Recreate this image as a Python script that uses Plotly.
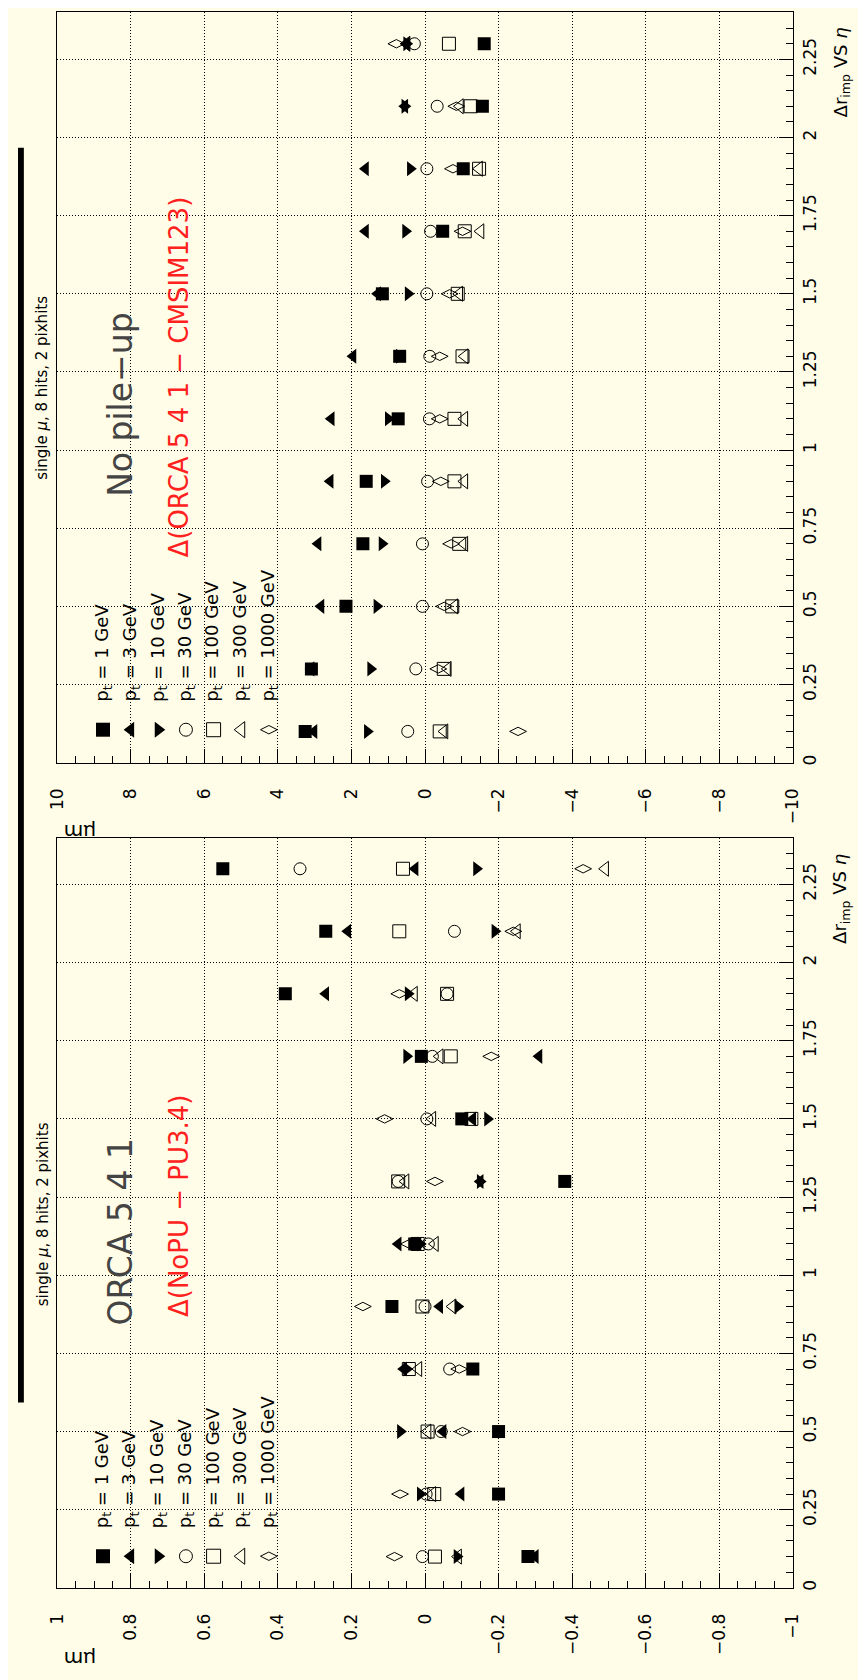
import plotly.graph_objects as go

W, H = 866, 1680

# ---------------- data ----------------
eta = [0.1, 0.3, 0.5, 0.7, 0.9, 1.1, 1.3, 1.5, 1.7, 1.9, 2.1, 2.3]

# upper panel: Delta(ORCA 5 4 1 - CMSIM123), in um
up_pt1 = [3.26, 3.09, 2.15, 1.69, 1.60, 0.73, 0.69, 1.16, -0.48, -1.04, -1.56, -1.61]
up_pt3 = [3.02, 3.10, 2.83, 2.91, 2.58, 2.55, 1.96, 1.29, 1.62, 1.62, 0.55, 0.50]
up_pt10 = [1.57, 1.48, 1.31, 1.17, 1.11, 1.00, 0.70, 0.46, 0.53, 0.40, 0.55, 0.50]
up_pt30 = [0.47, 0.25, 0.07, 0.07, -0.07, -0.12, -0.13, -0.05, -0.15, -0.05, -0.33, 0.29]
up_pt100 = [-0.40, -0.51, -0.74, -0.93, -0.80, -0.80, -1.02, -0.89, -1.08, -1.47, -1.24, -0.65]
up_pt300 = [-0.53, -0.62, -0.80, -1.07, -1.07, -1.07, -1.08, -0.93, -1.51, -1.47, -0.95, 0.50]
up_pt1000 = [-2.53, -0.36, -0.52, -0.71, -0.43, -0.40, -0.40, -0.67, -1.02, -0.76, -0.85, 0.78]

# lower panel: Delta(NoPU - PU3.4), in um
lo_pt1 = [-0.28, -0.20, -0.20, -0.13, 0.09, 0.028, -0.38, -0.10, 0.01, 0.38, 0.27, 0.55]
lo_pt3 = [-0.30, -0.098, -0.049, 0.058, -0.04, 0.073, -0.15, -0.13, -0.31, 0.27, 0.21, 0.027]
lo_pt10 = [-0.087, 0.013, 0.067, 0.05, -0.089, 0.013, -0.15, -0.17, 0.05, 0.046, -0.19, -0.14]
lo_pt30 = [0.007, -0.003, -0.044, -0.067, 0.0, -0.009, 0.073, -0.005, -0.02, -0.06, -0.08, 0.34]
lo_pt100 = [-0.027, -0.025, -0.007, 0.044, 0.007, 0.02, 0.073, -0.126, -0.07, -0.06, 0.07, 0.06]
lo_pt300 = [-0.09, -0.02, -0.007, 0.018, -0.075, -0.027, 0.053, -0.02, -0.04, 0.03, -0.25, -0.49]
lo_pt1000 = [0.083, 0.068, -0.102, -0.093, 0.169, 0.044, -0.027, 0.11, -0.18, 0.07, -0.24, -0.43]

legend_labels = ["p<sub>t</sub> = 1 GeV", "p<sub>t</sub> = 3 GeV", "p<sub>t</sub> = 10 GeV",
                 "p<sub>t</sub> = 30 GeV", "p<sub>t</sub> = 100 GeV", "p<sub>t</sub> = 300 GeV",
                 "p<sub>t</sub> = 1000 GeV"]

up_ticks = [10, 8, 6, 4, 2, 0, -2, -4, -6, -8, -10]
lo_ticks = [1, 0.8, 0.6, 0.4, 0.2, 0, -0.2, -0.4, -0.6, -0.8, -1]
eta_ticks = [0, 0.25, 0.5, 0.75, 1, 1.25, 1.5, 1.75, 2, 2.25]
eta_ticktext = ["0", "0.25", "0.5", "0.75", "1", "1.25", "1.5", "1.75", "2", "2.25"]

upper = [up_pt1, up_pt3, up_pt10, up_pt30, up_pt100, up_pt300, up_pt1000]
lower = [lo_pt1, lo_pt3, lo_pt10, lo_pt30, lo_pt100, lo_pt300, lo_pt1000]

# ---------------- styles ----------------
symbols = ["square", "triangle-left", "triangle-right", "circle-open",
           "square-open", "triangle-left-open", "diamond-wide-open"]
sizes = [13, 13, 13, 12, 13, 13, 12]
leg_sizes = [14, 14, 14, 13, 14, 14, 12]
BG = "#FFFDE7"
FONT = "DejaVu Sans"

X0, X1 = 40.3, 793.0
UP_T, UP_B = 4.5, 756.0
LO_T, LO_B = 831.0, 1582.7


def px(x):
    return x / W


def py(y):
    return 1 - y / H


def mk(sym, sz):
    filled = not sym.endswith("open")
    return dict(symbol=sym, size=sz, color="black",
                line=dict(color="black", width=0 if filled else 1))


fig = go.Figure()
for vals, sym, sz in zip(upper, symbols, sizes):
    fig.add_trace(go.Scatter(x=vals, y=eta, mode="markers", marker=mk(sym, sz),
                             xaxis="x", yaxis="y", showlegend=False, hoverinfo="skip"))
for vals, sym, sz in zip(lower, symbols, sizes):
    fig.add_trace(go.Scatter(x=vals, y=eta, mode="markers", marker=mk(sym, sz),
                             xaxis="x2", yaxis="y2", showlegend=False, hoverinfo="skip"))

# legend markers (drawn in a pixel-coordinate overlay)
LEG_X0, LEG_DX = 87.0, 28.3
for top_row in [723.0, 1551.0]:
    for i, (sym, sz) in enumerate(zip(symbols, leg_sizes)):
        fig.add_trace(go.Scatter(x=[LEG_X0 + i * LEG_DX], y=[top_row], mode="markers",
                                 marker=mk(sym, sz), xaxis="x3", yaxis="y3",
                                 showlegend=False, hoverinfo="skip"))

grid = dict(showgrid=True, gridcolor="black", gridwidth=1, griddash="1px,2px")
common_val = dict(tickangle=-90, ticks="inside", ticklen=14, tickwidth=1,
                  tickcolor="black", showline=True, linecolor="black", linewidth=1,
                  mirror=True, zeroline=False, ticklabelstandoff=18,
                  tickfont=dict(family=FONT, size=17, color="black"), **grid)
common_eta = dict(range=[0, 2.4], side="right", tickvals=eta_ticks, ticktext=eta_ticktext,
                  tickangle=-90, ticks="inside", ticklen=14, tickwidth=1, tickcolor="black",
                  minor=dict(dtick=0.05, ticks="inside", ticklen=7, tickcolor="black", showgrid=False),
                  showline=True, linecolor="black", linewidth=1, mirror=True, zeroline=False,
                  ticklabelstandoff=2, tickfont=dict(family=FONT, size=17, color="black"), **grid)

xa1 = dict(common_val)
xa1.update(range=[10, -10], tickvals=up_ticks, domain=[px(X0), px(X1)], anchor="y",
           minor=dict(dtick=0.5, ticks="inside", ticklen=7, tickcolor="black", showgrid=False))
xa2 = dict(common_val)
xa2.update(range=[1, -1], tickvals=lo_ticks, domain=[px(X0), px(X1)], anchor="y2",
           minor=dict(dtick=0.05, ticks="inside", ticklen=7, tickcolor="black", showgrid=False))
ya1 = dict(common_eta)
ya1.update(domain=[py(UP_B), py(UP_T)], anchor="x")
ya2 = dict(common_eta)
ya2.update(domain=[py(LO_B), py(LO_T)], anchor="x2")

annotations = []


def ann(x, y, text, size, color="black", angle=-90, xa="center", ya="middle"):
    annotations.append(dict(x=px(x), y=py(y), xref="paper", yref="paper", text=text,
                            showarrow=False, textangle=angle, xanchor=xa, yanchor=ya,
                            font=dict(family=FONT, size=size, color=color)))


for off, (title, red, red_y) in zip([0.0, 828.0], [("No pile−up", "Δ(ORCA 5 4 1 − CMSIM123)", 370),
                                                  ("ORCA 5 4 1", "Δ(NoPU − PU3.4)", 1200)]):
    ann(25, 380 + off, "single <i>μ</i>, 8 hits, 2 pixhits", 15)
    ann(843, 65 + off, "Δr<sub>imp</sub> VS <i>η</i>", 18)
    ann(64, 826 + off, "μm", 20, angle=180)
    ann(105, 398 + off, title, 33, color="#444444")
    ann(165, red_y, red, 26, color="#ff2020")
    for i, lab in enumerate(legend_labels):
        ann(LEG_X0 + i * LEG_DX, 697 + off, lab, 18, ya="bottom")

shapes = [dict(type="rect", xref="paper", yref="paper", x0=0, x1=px(6), y0=py(1397), y1=py(140),
               fillcolor="black", line=dict(width=0))]

fig.update_layout(
    width=W, height=H, autosize=False,
    margin=dict(l=0, r=0, t=0, b=0, pad=0),
    paper_bgcolor=BG, plot_bgcolor="rgba(0,0,0,0)",
    xaxis=xa1, yaxis=ya1, xaxis2=xa2, yaxis2=ya2,
    xaxis3=dict(domain=[0, 1], range=[0, W], visible=False, anchor="y3", fixedrange=True),
    yaxis3=dict(domain=[0, 1], range=[H, 0], visible=False, anchor="x3", fixedrange=True),
    annotations=annotations, shapes=shapes, showlegend=False,
)

fig.write_html("out.html")
